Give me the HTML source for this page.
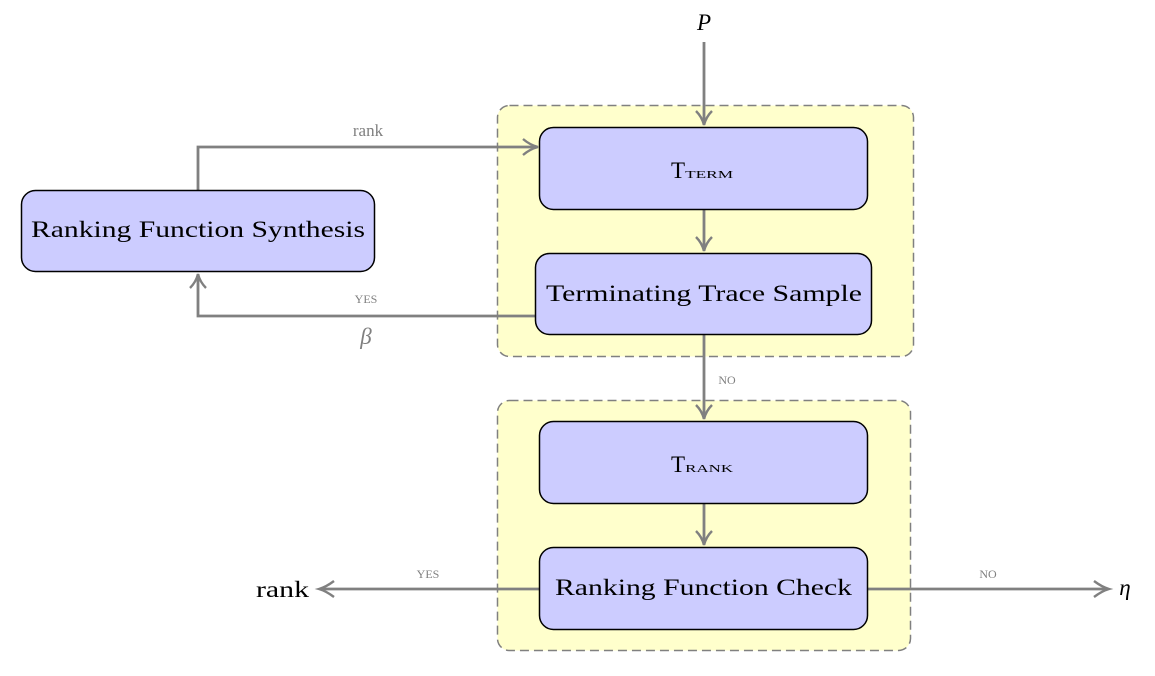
<!DOCTYPE html>
<html><head><meta charset="utf-8"><style>
html,body{margin:0;padding:0;background:#fff}
svg{display:block}
text{font-family:"Liberation Serif","DejaVu Serif",serif}
</style></head><body>
<svg width="1155" height="676" viewBox="0 0 1155 676">
<g>
<rect x="497.5" y="105.5" width="416" height="251" rx="12" fill="#ffffcc" stroke="#808080" stroke-width="1.5" stroke-dasharray="9,5"/>
</g>
<g>
<rect x="497.5" y="400.5" width="413" height="250" rx="12" fill="#ffffcc" stroke="#808080" stroke-width="1.5" stroke-dasharray="9,5"/>
</g>
<g fill="none" stroke="#808080" stroke-width="2.8">
<line x1="704" y1="42" x2="704" y2="125"/>
<path d="M696,111 Q702,117 704,125 Q706,117 712,111" stroke-width="2.4"/>
<polyline points="198,190 198,147 537,147"/>
<path d="M523,139 Q530,145 538,147 Q530,149 523,155" stroke-width="2.4"/>
<line x1="704" y1="210" x2="704" y2="251"/>
<path d="M696,237 Q702,243 704,251 Q706,243 712,237" stroke-width="2.4"/>
<polyline points="535,316 198,316 198,274"/>
<path d="M190,288 Q196,282 198,274 Q200,282 206,288" stroke-width="2.4"/>
<line x1="704" y1="335" x2="704" y2="419"/>
<path d="M696,405 Q702,411 704,419 Q706,411 712,405" stroke-width="2.4"/>
<line x1="704" y1="504" x2="704" y2="545"/>
<path d="M696,531 Q702,537 704,545 Q706,537 712,531" stroke-width="2.4"/>
<line x1="539" y1="589" x2="320" y2="589"/>
<path d="M334,581 Q326,587 319,589 Q326,591 334,597" stroke-width="2.4"/>
<line x1="868" y1="589" x2="1108" y2="589"/>
<path d="M1094,581 Q1102,587 1109,589 Q1102,591 1094,597" stroke-width="2.4"/>
</g>
<g fill="#ccccff" stroke="#000" stroke-width="1.5">
<rect x="539.5" y="127.5" width="328" height="82" rx="14"/>
<rect x="535.5" y="253.5" width="336" height="81" rx="14"/>
<rect x="539.5" y="421.5" width="328" height="82" rx="14"/>
<rect x="539.5" y="547.5" width="328" height="82" rx="14"/>
<rect x="21.5" y="190.5" width="353" height="81" rx="14"/>
</g>
<g font-size="23" fill="#000">
<text x="671" y="178">T<tspan font-size="11" textLength="48" lengthAdjust="spacingAndGlyphs">TERM</tspan></text>
<text x="546" y="301" textLength="316" lengthAdjust="spacingAndGlyphs">Terminating Trace Sample</text>
<text x="671" y="472">T<tspan font-size="11" textLength="48" lengthAdjust="spacingAndGlyphs">RANK</tspan></text>
<text x="555" y="595" textLength="297" lengthAdjust="spacingAndGlyphs">Ranking Function Check</text>
<text x="31" y="237" textLength="334" lengthAdjust="spacingAndGlyphs">Ranking Function Synthesis</text>
<text x="704" y="30" font-style="italic" text-anchor="middle">P</text>
<text x="256" y="597" textLength="53" lengthAdjust="spacingAndGlyphs">rank</text>
<text x="1125" y="595" font-style="italic" text-anchor="middle">η</text>
</g>
<g fill="#808080" text-anchor="middle">
<text x="368" y="136" font-size="17">rank</text>
<text x="366" y="303" font-size="12">YES</text>
<text x="366" y="344" font-size="23" font-style="italic">β</text>
<text x="727" y="384" font-size="12">NO</text>
<text x="428" y="578" font-size="12">YES</text>
<text x="988" y="578" font-size="12">NO</text>
</g>
</svg>
</body></html>
